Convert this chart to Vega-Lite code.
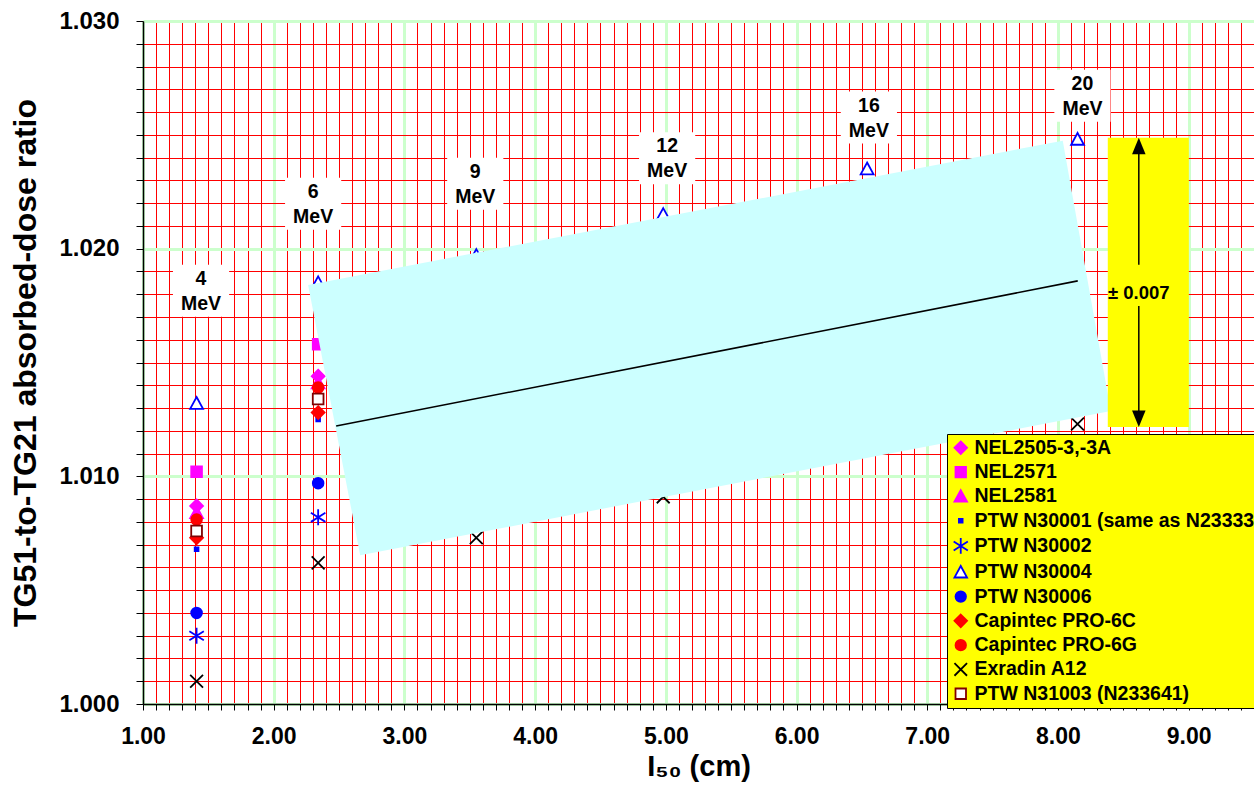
{
  "$schema": "https://vega.github.io/schema/vega-lite/v6.json",
  "width": 1111,
  "height": 683,
  "autosize": {"type": "none"},
  "padding": {"left": 143, "top": 21, "right": 0, "bottom": 95},
  "config": {
    "view": {"stroke": "#404040", "strokeWidth": 1},
    "font": "Liberation Sans",
    "legend": {
      "orient": "none", "legendX": 804, "legendY": 413, "title": null,
      "fillColor": "#ffff00", "strokeColor": "black", "padding": 4,
      "labelFont": "Liberation Sans", "labelFontWeight": "bold", "labelFontSize": 19.5, "labelColor": "black",
      "labelLimit": 500, "symbolSize": 110, "symbolStrokeWidth": 1.8, "rowPadding": 3.3, "labelOffset": 4, "symbolOpacity": 1
    }
  },
  "datasets": {
    "points": [
      {"series": "NEL2505-3,-3A", "l50": 1.41, "ratio": 1.0087},
      {"series": "NEL2505-3,-3A", "l50": 2.34, "ratio": 1.0144},
      {"series": "NEL2571", "l50": 1.41, "ratio": 1.0102},
      {"series": "NEL2571", "l50": 2.34, "ratio": 1.0158},
      {"series": "NEL2581", "l50": 1.41, "ratio": 1.0084},
      {"series": "NEL2581", "l50": 2.34, "ratio": 1.0141},
      {"series": "PTW N30001 (same as N23333)", "l50": 1.41, "ratio": 1.0068},
      {"series": "PTW N30001 (same as N23333)", "l50": 2.34, "ratio": 1.0125},
      {"series": "PTW N30002", "l50": 1.41, "ratio": 1.0030},
      {"series": "PTW N30002", "l50": 2.34, "ratio": 1.0082},
      {"series": "PTW N30004", "l50": 1.41, "ratio": 1.0132},
      {"series": "PTW N30004", "l50": 2.34, "ratio": 1.0185},
      {"series": "PTW N30004", "l50": 3.55, "ratio": 1.0197},
      {"series": "PTW N30004", "l50": 4.98, "ratio": 1.0215},
      {"series": "PTW N30004", "l50": 6.54, "ratio": 1.0235},
      {"series": "PTW N30004", "l50": 8.15, "ratio": 1.0248},
      {"series": "PTW N30006", "l50": 1.41, "ratio": 1.0040},
      {"series": "PTW N30006", "l50": 2.34, "ratio": 1.0097},
      {"series": "Capintec PRO-6C", "l50": 1.41, "ratio": 1.0073},
      {"series": "Capintec PRO-6C", "l50": 2.34, "ratio": 1.0128},
      {"series": "Capintec PRO-6G", "l50": 1.41, "ratio": 1.0081},
      {"series": "Capintec PRO-6G", "l50": 2.34, "ratio": 1.0139},
      {"series": "Exradin A12", "l50": 1.41, "ratio": 1.0010},
      {"series": "Exradin A12", "l50": 2.34, "ratio": 1.0062},
      {"series": "Exradin A12", "l50": 3.55, "ratio": 1.0073},
      {"series": "Exradin A12", "l50": 4.98, "ratio": 1.0091},
      {"series": "Exradin A12", "l50": 6.54, "ratio": 1.0112},
      {"series": "Exradin A12", "l50": 8.15, "ratio": 1.0123},
      {"series": "PTW N31003 (N233641)", "l50": 1.41, "ratio": 1.0076},
      {"series": "PTW N31003 (N233641)", "l50": 2.34, "ratio": 1.0134}
    ],
    "band": [
      {"l50": 2.2634, "top": 1.018409, "bottom": 1.018409},
      {"l50": 2.6616, "top": 1.018846, "bottom": 1.006532},
      {"l50": 8.0368, "top": 1.024743, "bottom": 1.012461},
      {"l50": 8.4043, "top": 1.012866, "bottom": 1.012866}
    ],
    "fit": [{"x1": 2.4778, "y1": 1.012207, "x2": 8.1516, "y2": 1.018585}],
    "energies": [
      {"label": "4\nMeV", "l50": 1.4441, "ratio": 1.01815},
      {"label": "6\nMeV", "l50": 2.3017, "ratio": 1.02197},
      {"label": "9\nMeV", "l50": 3.5421, "ratio": 1.02285},
      {"label": "12\nMeV", "l50": 5.0100, "ratio": 1.02397},
      {"label": "16\nMeV", "l50": 6.5536, "ratio": 1.02576},
      {"label": "20\nMeV", "l50": 8.1875, "ratio": 1.02672}
    ],
    "tolbox": [{"x1": 8.3813, "x2": 9.0015, "y1": 1.012163, "y2": 1.024875, "x": 8.6187, "ymid": 1.018057, "text": "± 0.007"}],
    "shaft": [
      {"x": 8.6187, "y1": 1.024479, "y2": 1.019289},
      {"x": 8.6187, "y1": 1.017485, "y2": 1.012558}
    ],
    "heads": [
      {"end": "top", "x": 8.6187, "y": 1.024479},
      {"end": "bottom", "x": 8.6187, "y": 1.012558}
    ]
  },
  "layer": [
    {
      "data": {"name": "points"},
      "mark": {"type": "point", "opacity": 1, "strokeWidth": 1.8, "size": 115},
      "encoding": {
        "x": {
          "field": "l50", "type": "quantitative",
          "scale": {"domain": [1, 9.5], "nice": false, "zero": false},
          "axis": {
            "orient": "bottom",
            "values": [1.1,1.2,1.3,1.4,1.5,1.6,1.7,1.8,1.9,2.1,2.2,2.3,2.4,2.5,2.6,2.7,2.8,2.9,3.1,3.2,3.3,3.4,3.5,3.6,3.7,3.8,3.9,4.1,4.2,4.3,4.4,4.5,4.6,4.7,4.8,4.9,5.1,5.2,5.3,5.4,5.5,5.6,5.7,5.8,5.9,6.1,6.2,6.3,6.4,6.5,6.6,6.7,6.8,6.9,7.1,7.2,7.3,7.4,7.5,7.6,7.7,7.8,7.9,8.1,8.2,8.3,8.4,8.5,8.6,8.7,8.8,8.9,9.1,9.2,9.3,9.4],
            "grid": true, "gridColor": "#ff0000", "gridWidth": 1, "gridOpacity": 1,
            "ticks": true, "tickColor": "black", "tickSize": 6, "tickWidth": 1,
            "labels": false, "domain": false, "title": null
          }
        },
        "y": {
          "field": "ratio", "type": "quantitative",
          "scale": {"domain": [1.0, 1.03], "nice": false, "zero": false},
          "axis": {
            "orient": "left",
            "values": [1.001,1.002,1.003,1.004,1.005,1.006,1.007,1.008,1.009,1.011,1.012,1.013,1.014,1.015,1.016,1.017,1.018,1.019,1.021,1.022,1.023,1.024,1.025,1.026,1.027,1.028,1.029],
            "grid": true, "gridColor": "#ff0000", "gridWidth": 1, "gridOpacity": 1,
            "ticks": true, "tickColor": "black", "tickSize": 7, "tickWidth": 1,
            "labels": false, "domain": false, "title": null
          }
        },
        "shape": {
          "field": "series", "type": "nominal",
          "scale": {
            "domain": ["NEL2505-3,-3A","NEL2571","NEL2581","PTW N30001 (same as N23333)","PTW N30002","PTW N30004","PTW N30006","Capintec PRO-6C","Capintec PRO-6G","Exradin A12","PTW N31003 (N233641)"],
            "range": ["M0,-1.2L1.2,0L0,1.2L-1.2,0Z","square","M0,-1.2L1.2,1L-1.2,1Z","M-0.35,-0.35L0.35,-0.35L0.35,0.35L-0.35,0.35Z","M0,-1.5L0,1.5M-1.35,-0.85L1.35,0.85M-1.35,0.85L1.35,-0.85","M0,-1.2L1.2,1L-1.2,1Z","circle","M0,-1.2L1.2,0L0,1.2L-1.2,0Z","circle","M-1.2,-1.2L1.2,1.2M-1.2,1.2L1.2,-1.2","square"]
          }
        },
        "fill": {
          "field": "series", "type": "nominal",
          "scale": {
            "domain": ["NEL2505-3,-3A","NEL2571","NEL2581","PTW N30001 (same as N23333)","PTW N30002","PTW N30004","PTW N30006","Capintec PRO-6C","Capintec PRO-6G","Exradin A12","PTW N31003 (N233641)"],
            "range": ["#ff00ff","#ff00ff","#ff00ff","#0000ff","transparent","#ffffff","#0000ff","#ff0000","#ff0000","transparent","#ffffff"]
          }
        },
        "stroke": {
          "field": "series", "type": "nominal",
          "scale": {
            "domain": ["NEL2505-3,-3A","NEL2571","NEL2581","PTW N30001 (same as N23333)","PTW N30002","PTW N30004","PTW N30006","Capintec PRO-6C","Capintec PRO-6G","Exradin A12","PTW N31003 (N233641)"],
            "range": ["#ff00ff","#ff00ff","#ff00ff","#0000ff","#0000ff","#0000ff","#0000ff","#ff0000","#ff0000","#000000","#800000"]
          }
        }
      }
    },
    {
      "data": {"name": "band"},
      "mark": {"type": "area", "color": "#ccffff", "opacity": 1},
      "encoding": {
        "x": {
          "field": "l50", "type": "quantitative",
          "scale": {"domain": [1, 9.5], "nice": false, "zero": false},
          "axis": {
            "orient": "bottom", "values": [1,2,3,4,5,6,7,8,9],
            "grid": true, "gridColor": "#ccffcc", "gridWidth": 3,
            "ticks": true, "tickColor": "black", "tickSize": 6, "tickWidth": 1,
            "labels": true, "format": ".2f", "labelFont": "Liberation Sans", "labelFontSize": 23, "labelFontWeight": "bold", "labelColor": "black",
            "labelPadding": 15, "labelFlush": false, "labelOverlap": false,
            "domain": true, "domainColor": "black", "domainWidth": 1.5,
            "title": "I₅₀ (cm)", "titleFont": "Liberation Sans", "titleFontSize": 29, "titleFontWeight": "bold", "titleColor": "black", "titlePadding": 4
          }
        },
        "y": {
          "field": "top", "type": "quantitative",
          "scale": {"domain": [1.0, 1.03], "nice": false, "zero": false},
          "axis": {
            "orient": "left", "values": [1.0, 1.01, 1.02, 1.03],
            "grid": true, "gridColor": "#ccffcc", "gridWidth": 3,
            "ticks": true, "tickColor": "black", "tickSize": 7, "tickWidth": 1,
            "labels": true, "format": ".3f", "labelFont": "Liberation Sans", "labelFontSize": 24, "labelFontWeight": "bold", "labelColor": "black",
            "labelPadding": 17, "labelFlush": false, "labelOverlap": false,
            "domain": true, "domainColor": "black", "domainWidth": 1.5,
            "title": "TG51-to-TG21 absorbed-dose ratio", "titleFont": "Liberation Sans", "titleFontSize": 32, "titleFontWeight": "bold", "titleColor": "black", "titlePadding": 16
          }
        },
        "y2": {"field": "bottom"}
      }
    },
    {
      "data": {"name": "fit"},
      "mark": {"type": "rule", "color": "black", "strokeWidth": 1.6},
      "encoding": {
        "x": {"field": "x1", "type": "quantitative", "scale": {"domain": [1, 9.5], "nice": false, "zero": false}, "axis": null},
        "y": {"field": "y1", "type": "quantitative", "scale": {"domain": [1.0, 1.03], "nice": false, "zero": false}, "axis": null},
        "x2": {"field": "x2"},
        "y2": {"field": "y2"}
      }
    },
    {
      "data": {"name": "energies"},
      "mark": {"type": "point", "shape": "M-1.08,-1L1.08,-1L1.08,1L-1.08,1Z", "size": 2704, "filled": true, "color": "#ffffff", "opacity": 1, "strokeWidth": 0},
      "encoding": {
        "x": {"field": "l50", "type": "quantitative", "scale": {"domain": [1, 9.5], "nice": false, "zero": false}, "axis": null},
        "y": {"field": "ratio", "type": "quantitative", "scale": {"domain": [1.0, 1.03], "nice": false, "zero": false}, "axis": null}
      }
    },
    {
      "data": {"name": "energies"},
      "mark": {"type": "text", "lineBreak": "\n", "lineHeight": 25, "dy": -12, "font": "Liberation Sans", "fontSize": 19.5, "fontWeight": "bold", "color": "black", "align": "center", "baseline": "middle"},
      "encoding": {
        "x": {"field": "l50", "type": "quantitative", "scale": {"domain": [1, 9.5], "nice": false, "zero": false}, "axis": null},
        "y": {"field": "ratio", "type": "quantitative", "scale": {"domain": [1.0, 1.03], "nice": false, "zero": false}, "axis": null},
        "text": {"field": "label"}
      }
    },
    {
      "data": {"name": "tolbox"},
      "mark": {"type": "rect", "color": "#ffff00", "opacity": 1},
      "encoding": {
        "x": {"field": "x1", "type": "quantitative", "scale": {"domain": [1, 9.5], "nice": false, "zero": false}, "axis": null},
        "x2": {"field": "x2"},
        "y": {"field": "y1", "type": "quantitative", "scale": {"domain": [1.0, 1.03], "nice": false, "zero": false}, "axis": null},
        "y2": {"field": "y2"}
      }
    },
    {
      "data": {"name": "shaft"},
      "mark": {"type": "rule", "color": "black", "strokeWidth": 1.5},
      "encoding": {
        "x": {"field": "x", "type": "quantitative", "scale": {"domain": [1, 9.5], "nice": false, "zero": false}, "axis": null},
        "y": {"field": "y1", "type": "quantitative", "scale": {"domain": [1.0, 1.03], "nice": false, "zero": false}, "axis": null},
        "y2": {"field": "y2"}
      }
    },
    {
      "data": {"name": "heads"},
      "transform": [{"filter": "datum.end === 'top'"}],
      "mark": {"type": "point", "shape": "M0,-1.2L0.9,1L-0.9,1Z", "size": 225, "filled": true, "color": "black", "opacity": 1, "strokeWidth": 0},
      "encoding": {
        "x": {"field": "x", "type": "quantitative", "scale": {"domain": [1, 9.5], "nice": false, "zero": false}, "axis": null},
        "y": {"field": "y", "type": "quantitative", "scale": {"domain": [1.0, 1.03], "nice": false, "zero": false}, "axis": null}
      }
    },
    {
      "data": {"name": "heads"},
      "transform": [{"filter": "datum.end === 'bottom'"}],
      "mark": {"type": "point", "shape": "M0,1.2L0.9,-1L-0.9,-1Z", "size": 225, "filled": true, "color": "black", "opacity": 1, "strokeWidth": 0},
      "encoding": {
        "x": {"field": "x", "type": "quantitative", "scale": {"domain": [1, 9.5], "nice": false, "zero": false}, "axis": null},
        "y": {"field": "y", "type": "quantitative", "scale": {"domain": [1.0, 1.03], "nice": false, "zero": false}, "axis": null}
      }
    },
    {
      "data": {"name": "tolbox"},
      "mark": {"type": "text", "font": "Liberation Sans", "fontSize": 18.5, "fontWeight": "bold", "color": "black", "align": "center", "baseline": "middle"},
      "encoding": {
        "x": {"field": "x", "type": "quantitative", "scale": {"domain": [1, 9.5], "nice": false, "zero": false}, "axis": null},
        "y": {"field": "ymid", "type": "quantitative", "scale": {"domain": [1.0, 1.03], "nice": false, "zero": false}, "axis": null},
        "text": {"field": "text"}
      }
    }
  ],
  "resolve": {"axis": {"x": "independent", "y": "independent"}}
}
